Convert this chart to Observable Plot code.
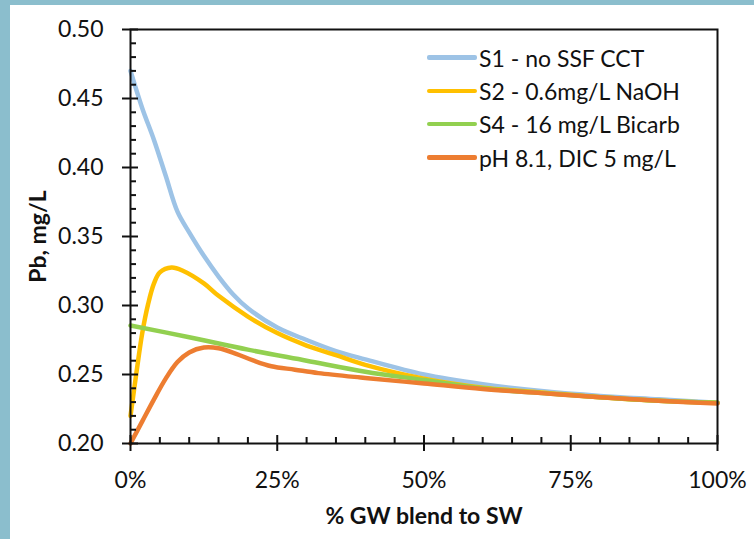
<!DOCTYPE html>
<html>
<head>
<meta charset="utf-8">
<script src="https://cdn.jsdelivr.net/npm/d3@7"></script>
<script src="https://cdn.jsdelivr.net/npm/@observablehq/plot@0.6"></script>
<style>
  html, body { margin: 0; padding: 0; }
  body { width: 754px; height: 539px; overflow: hidden; background: #8bbecd; position: relative; font-family: Lato, sans-serif; }
  #panel { position: absolute; left: 10px; top: 5px; width: 744px; height: 534px; background: #fff; }
  #legend { position: absolute; left: 417px; top: 36px; font-size: 23px; color: #111; }
  #legend .row { display: flex; align-items: center; height: 33.3px; }
  #legend .sw { width: 50px; height: 4.5px; margin-right: 2px; border-radius: 2px; }
</style>
</head>
<body>
<div id="panel"><div id="chart"></div><div id="legend"></div></div>
<script>
// ---- data ----
const seriesNames = ["S1 - no SSF CCT", "S2 - 0.6mg/L NaOH", "S4 - 16 mg/L Bicarb", "pH 8.1, DIC 5 mg/L"];
const seriesColors = ["#9dc3e6", "#ffc000", "#92d050", "#ed7d31"];

const s1X = [0, 2, 4, 6, 8, 10, 12.5, 15, 17.5, 20, 25, 30, 35, 40, 50, 60, 70, 80, 90, 100];
const s1Y = [0.470, 0.443, 0.420, 0.394, 0.368, 0.353, 0.336, 0.321, 0.308, 0.298, 0.284, 0.275, 0.267, 0.261, 0.250, 0.243, 0.238, 0.2345, 0.232, 0.2295];

const s2X = [0, 1, 2, 3, 4, 5, 7, 9, 12.5, 15, 20, 25, 30, 35, 40, 50, 60, 70, 80, 90, 100];
const s2Y = [0.220, 0.251, 0.280, 0.301, 0.316, 0.324, 0.3275, 0.325, 0.316, 0.307, 0.292, 0.280, 0.271, 0.264, 0.257, 0.247, 0.2405, 0.237, 0.2335, 0.231, 0.2295];

const s4X = [0, 10, 20, 30, 40, 50, 60, 70, 80, 90, 100];
const s4Y = [0.2855, 0.277, 0.268, 0.260, 0.252, 0.246, 0.240, 0.2365, 0.2335, 0.231, 0.2295];

const phX = [0, 2, 4, 6, 8, 10, 12.5, 15, 18, 21, 24, 28, 32, 40, 50, 60, 70, 80, 90, 100];
const phY = [0.200, 0.216, 0.232, 0.247, 0.259, 0.266, 0.2695, 0.269, 0.265, 0.260, 0.256, 0.2535, 0.251, 0.2475, 0.2435, 0.2395, 0.2365, 0.2335, 0.231, 0.229];

const yMajor = [0.20, 0.25, 0.30, 0.35, 0.40, 0.45, 0.50];
const yMinor = [0.21,0.22,0.23,0.24,0.26,0.27,0.28,0.29,0.31,0.32,0.33,0.34,0.36,0.37,0.38,0.39,0.41,0.42,0.43,0.44,0.46,0.47,0.48,0.49];
const xMajor = [0, 25, 50, 75, 100];
const xMinor = [5,10,15,20,30,35,40,45,55,60,65,70,80,85,90,95];

const xTitle = "% GW blend to SW";
const yTitle = "Pb, mg/L";

// ---- build ----
const allX = [s1X, s2X, s4X, phX];
const allY = [s1Y, s2Y, s4Y, phY];
const rows = [];
allX.forEach((xs, k) => xs.forEach((x, i) => rows.push({series: seriesNames[k], x, y: allY[k][i]})));

const noText = () => "";
const chart = Plot.plot({
  width: 744, height: 534,
  marginLeft: 120, marginTop: 24, marginRight: 37, marginBottom: 96,
  style: {fontFamily: "Lato, sans-serif", fontSize: "23px", color: "#111", background: "transparent", overflow: "visible"},
  x: {domain: [0, 100]},
  y: {domain: [0.2, 0.5]},
  color: {domain: seriesNames, range: seriesColors},
  marks: [
    Plot.line(rows, {x: "x", y: "y", z: "series", stroke: "series", strokeWidth: 4.5, curve: "catmull-rom"}),
    Plot.frame({stroke: "#111", strokeWidth: 2}),
    Plot.axisY({ticks: yMajor, tickSize: 8, tickPadding: 19, tickFormat: d3.format(".2f"), strokeWidth: 2, label: yTitle, labelArrow: "none", labelAnchor: "center", labelOffset: 101, fontSize: 23}),
    Plot.axisY({ticks: yMajor, tickSize: 8, dx: 8, tickFormat: noText, strokeWidth: 2, label: null}),
    Plot.axisY({ticks: yMinor, tickSize: 6, dx: 6, tickFormat: noText, strokeWidth: 2, label: null}),
    Plot.axisX({ticks: xMajor, tickSize: 8, tickPadding: 20, tickFormat: d => d + "%", strokeWidth: 2, label: xTitle, labelArrow: "none", labelAnchor: "center", labelOffset: 80, fontSize: 23}),
    Plot.axisX({ticks: xMajor, tickSize: 8, dy: -8, tickFormat: noText, strokeWidth: 2, label: null}),
    Plot.axisX({ticks: xMinor, tickSize: 6, dy: -6, tickFormat: noText, strokeWidth: 2, label: null})
  ]
});
document.getElementById("chart").appendChild(chart);
chart.querySelectorAll("g[aria-label='x-axis label'] text, g[aria-label='y-axis label'] text").forEach(t => {
  t.setAttribute("font-weight", "bold");
  t.textContent = t.textContent.replace(/\s*[→↑←↓]\s*/g, "");
});

const legend = document.getElementById("legend");
seriesNames.forEach((n, i) => {
  const r = document.createElement("div");
  r.className = "row";
  r.innerHTML = `<span class="sw" style="background:${seriesColors[i]}"></span><span>${n}</span>`;
  legend.appendChild(r);
});
</script>
</body>
</html>
